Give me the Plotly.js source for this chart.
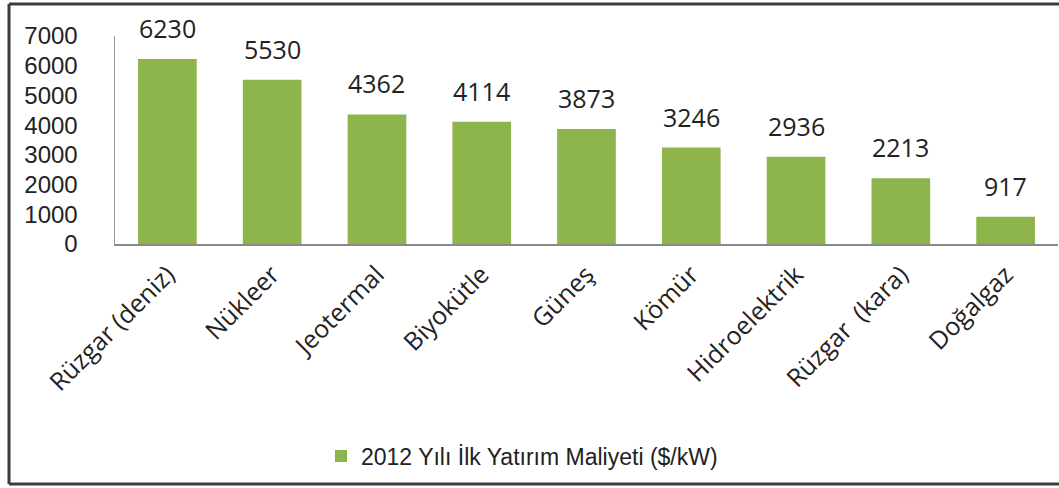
<!DOCTYPE html>
<html>
<head>
<meta charset="utf-8">
<script src="https://cdn.plot.ly/plotly-3.0.1.min.js"></script>
<style>
  html, body { margin: 0; padding: 0; background: #fff; }
  #chart { width: 1059px; height: 488px; }
</style>
</head>
<body>
<div id="chart"></div>
<script>
const categories = ["Rüzgar (deniz)", "Nükleer", "Jeotermal", "Biyokütle", "Güneş", "Kömür", "Hidroelektrik", "Rüzgar  (kara)", "Doğalgaz"];
const values = [6230, 5530, 4362, 4114, 3873, 3246, 2936, 2213, 917];
const seriesName = "2012 Yılı İlk Yatırım Maliyeti ($/kW)";
const yTicks = [0, 1000, 2000, 3000, 4000, 5000, 6000, 7000];

const L = 115, R = 1058, T = 36, B = 244, W = 1059, H = 488;
const pw = R - L, ph = B - T;
const px = v => (v - L) / pw;
const py = v => (B - v) / ph;

const trace = {
  type: "bar",
  x: categories,
  y: values,
  name: seriesName,
  marker: { color: "#8db54b" },
  showlegend: true,
  hoverinfo: "x+y"
};

const annotations = categories.map((c, i) => ({
  x: c, y: values[i], xref: "x", yref: "y",
  text: String(values[i]),
  showarrow: false,
  yanchor: "middle",
  yshift: 31,
  font: { family: "Open Sans", size: 25, color: "#222" }
}));

const borderLine = { color: "#3c3c3c", width: 3 };

const layout = {
  width: W, height: H,
  margin: { l: L, r: W - R, t: T, b: H - B, pad: 0 },
  paper_bgcolor: "#fff",
  plot_bgcolor: "#fff",
  bargap: 0.44,
  font: { family: "Open Sans", size: 24, color: "#222" },
  xaxis: {
    type: "category",
    tickangle: -45,
    showline: true, linecolor: "#8a8a8a", linewidth: 2,
    ticks: "", showgrid: false, zeroline: false,
    ticklabelstandoff: 4,
    tickfont: { family: "Open Sans", size: 25, color: "#222" },
    automargin: false
  },
  yaxis: {
    range: [0, 7000],
    tickvals: yTicks,
    ticktext: yTicks.map(String),
    showline: true, linecolor: "#9a9a9a", linewidth: 1.5,
    ticks: "", showgrid: false, zeroline: false,
    ticklabelstandoff: 31,
    tickfont: { family: "Liberation Sans", size: 24, color: "#222" },
    automargin: false
  },
  legend: {
    orientation: "h",
    x: px(522), xanchor: "center",
    y: py(456), yanchor: "middle",
    font: { family: "Liberation Sans", size: 23, color: "#222" },
    bgcolor: "rgba(0,0,0,0)"
  },
  annotations: annotations,
  shapes: [
    { type: "line", xref: "paper", yref: "paper", x0: px(9), x1: px(9), y0: py(484), y1: py(4), line: borderLine },
    { type: "line", xref: "paper", yref: "paper", x0: px(9), x1: px(1070), y0: py(4), y1: py(4), line: borderLine },
    { type: "line", xref: "paper", yref: "paper", x0: px(9), x1: px(1070), y0: py(484), y1: py(484), line: borderLine }
  ]
};

Plotly.newPlot("chart", [trace], layout, { displayModeBar: false, staticPlot: true });
</script>
</body>
</html>
